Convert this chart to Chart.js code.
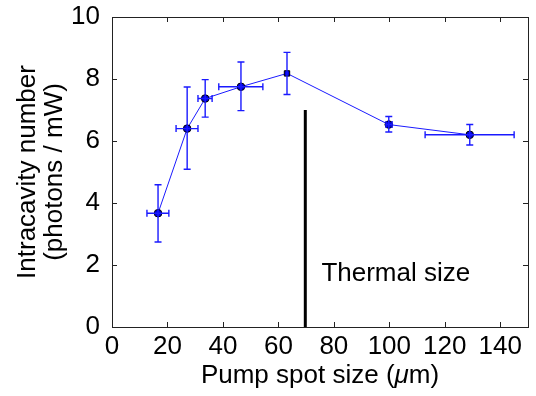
<!DOCTYPE html>
<html>
<head>
<meta charset="utf-8">
<script src="https://cdn.jsdelivr.net/npm/chart.js@4.4.1/dist/chart.umd.min.js"></script>
<style>
html,body{margin:0;padding:0;background:#fff;}
#wrap{width:536px;height:396px;position:relative;}
</style>
</head>
<body>
<div id="wrap"><canvas id="c" width="536" height="396"></canvas></div>
<script>
// Data
const spotSize   = [16.6, 27.1, 33.6, 46.5, 63.1, 99.8, 129.0];
const intracav   = [3.67, 6.40, 7.37, 7.75, 8.18, 6.53, 6.20];
const yErrLow    = [2.74, 5.09, 6.77, 6.98, 7.50, 6.29, 5.87];
const yErrHigh   = [4.59, 7.74, 7.98, 8.55, 8.86, 6.79, 6.53];
const xErrLow    = [12.6, 23.1, 31.0, 38.5, 63.1, 98.8, 112.9];
const xErrHigh   = [20.5, 31.0, 36.1, 54.4, 63.1, 101.0, 145.0];
const thermalX   = [69.7, 69.7];
const thermalY   = [0, 7.0];
const xTicks     = [0, 20, 40, 60, 80, 100, 120, 140];
const yTicks     = [0, 2, 4, 6, 8, 10];
const thermalLabel = 'Thermal size';
const thermalLabelPos = {x: 75.5, y: 1.5};
const xTitleParts = ['Pump spot size (', '\u03bc', 'm)'];
const yTitleLines = ['Intracavity number', '(photons / mW)'];

const FONT = '"Liberation Sans", Arial, sans-serif';
const FS = 26;
const BLUE = '#1a1aff';

const points = spotSize.map((x, i) => ({x: x, y: intracav[i]}));
const thermal = thermalX.map((x, i) => ({x: x, y: thermalY[i]}));

const errorBars = {
  id: 'errorBars',
  afterDatasetsDraw(chart) {
    const {ctx, scales: {x, y}} = chart;
    ctx.save();
    ctx.strokeStyle = BLUE;
    ctx.lineWidth = 1.4;
    const cap = 3.5;
    spotSize.forEach((sx, i) => {
      const px = x.getPixelForValue(sx);
      const py = y.getPixelForValue(intracav[i]);
      const yl = y.getPixelForValue(yErrLow[i]);
      const yh = y.getPixelForValue(yErrHigh[i]);
      ctx.beginPath();
      ctx.moveTo(px, yl); ctx.lineTo(px, yh);
      ctx.moveTo(px - cap, yl); ctx.lineTo(px + cap, yl);
      ctx.moveTo(px - cap, yh); ctx.lineTo(px + cap, yh);
      const xl = x.getPixelForValue(xErrLow[i]);
      const xh = x.getPixelForValue(xErrHigh[i]);
      if (xh - xl > 1) {
        ctx.moveTo(xl, py); ctx.lineTo(xh, py);
        ctx.moveTo(xl, py - cap); ctx.lineTo(xl, py + cap);
        ctx.moveTo(xh, py - cap); ctx.lineTo(xh, py + cap);
      }
      ctx.stroke();
    });
    ctx.restore();
  }
};

const frame = {
  id: 'frame',
  afterDraw(chart) {
    const {ctx, chartArea: a, scales: {x, y}} = chart;
    ctx.save();
    ctx.strokeStyle = '#222';
    ctx.lineWidth = 1;
    ctx.strokeRect(Math.round(a.left) + 0.5, Math.round(a.top) + 0.5,
                   Math.round(a.right - a.left), Math.round(a.bottom - a.top));
    const tl = 5;
    ctx.beginPath();
    xTicks.forEach(v => {
      const px = Math.round(x.getPixelForValue(v)) + 0.5;
      ctx.moveTo(px, a.bottom); ctx.lineTo(px, a.bottom - tl);
      ctx.moveTo(px, a.top); ctx.lineTo(px, a.top + tl);
    });
    yTicks.forEach(v => {
      const py = Math.round(y.getPixelForValue(v)) + 0.5;
      ctx.moveTo(a.left, py); ctx.lineTo(a.left + tl, py);
      ctx.moveTo(a.right, py); ctx.lineTo(a.right - tl, py);
    });
    ctx.stroke();
    ctx.fillStyle = '#000';
    ctx.font = FS + 'px ' + FONT;
    ctx.textBaseline = 'alphabetic';
    ctx.textAlign = 'left';
    // thermal label
    ctx.fillText(thermalLabel, x.getPixelForValue(thermalLabelPos.x), y.getPixelForValue(thermalLabelPos.y));
    // x title with italic mu
    const fonts = [FS + 'px ' + FONT, 'italic ' + FS + 'px ' + FONT, FS + 'px ' + FONT];
    let widths = xTitleParts.map((t, i) => { ctx.font = fonts[i]; return ctx.measureText(t).width; });
    const total = widths.reduce((s, w) => s + w, 0);
    let cx = (a.left + a.right) / 2 - total / 2;
    const by = 383;
    xTitleParts.forEach((t, i) => { ctx.font = fonts[i]; ctx.fillText(t, cx, by); cx += widths[i]; });
    // y title
    ctx.font = FS + 'px ' + FONT;
    ctx.textAlign = 'center';
    ctx.translate(0, (a.top + a.bottom) / 2);
    ctx.rotate(-Math.PI / 2);
    ctx.fillText(yTitleLines[0], 0, 35);
    ctx.fillText(yTitleLines[1], 0, 62);
    ctx.restore();
  }
};

new Chart(document.getElementById('c'), {
  type: 'scatter',
  data: {
    datasets: [
      {
        data: points,
        showLine: true,
        borderColor: BLUE,
        borderWidth: 1,
        backgroundColor: '#0000e0',
        pointBorderColor: '#000',
        pointBorderWidth: 1,
        pointRadius: 3.8,
        pointStyle: ctx => ctx.dataIndex === 4 ? 'rect' : 'circle',
        order: 1
      },
      {
        data: thermal,
        showLine: true,
        borderColor: '#000',
        borderWidth: 3,
        pointRadius: 0,
        order: 2
      }
    ]
  },
  plugins: [errorBars, frame],
  options: {
    responsive: false,
    animation: false,
    devicePixelRatio: 1,
    layout: {padding: {left: 0, right: 8, top: 17, bottom: 0}},
    plugins: {legend: {display: false}, tooltip: {enabled: false}},
    scales: {
      x: {
        type: 'linear', min: 0, max: 150,
        afterBuildTicks: s => { s.ticks = xTicks.map(v => ({value: v})); },
        afterFit: s => { s.height = 69; s.paddingLeft = 0; s.paddingRight = 0; },
        grid: {display: false, drawTicks: false},
        border: {display: false},
        ticks: {color: '#000', font: {family: FONT, size: FS}, padding: 4, maxRotation: 0, autoSkip: false},
        title: {display: false}
      },
      y: {
        type: 'linear', min: 0, max: 10,
        afterBuildTicks: s => { s.ticks = yTicks.map(v => ({value: v})); },
        afterFit: s => { s.width = 112; s.paddingTop = 0; s.paddingBottom = 0; },
        grid: {display: false, drawTicks: false},
        border: {display: false},
        ticks: {color: '#000', font: {family: FONT, size: FS}, padding: 12, autoSkip: false},
        title: {display: false}
      }
    }
  }
});
</script>
</body>
</html>
